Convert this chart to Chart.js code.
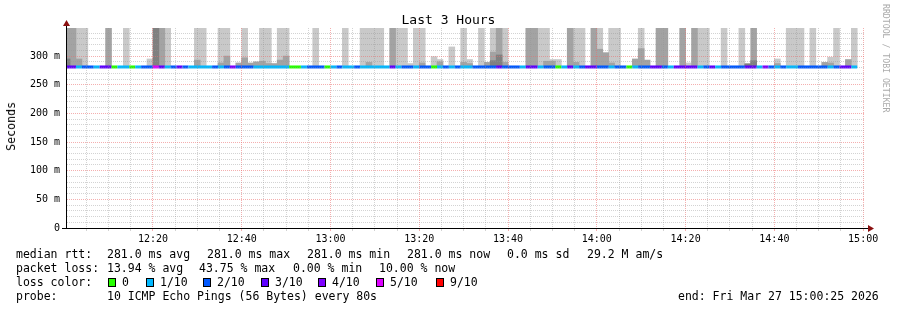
<!DOCTYPE html>
<html>
<head>
<meta charset="utf-8">
<script src="https://cdn.jsdelivr.net/npm/chart.js@4.4.1/dist/chart.umd.min.js"></script>
<style>
body { margin: 0; background: #fff; }
#wrap { position: relative; width: 897px; height: 310px; font-family: "DejaVu Sans Mono", monospace; color: #000; overflow: hidden; }
#chart { position: absolute; left: 0; top: 0; }
.txt { position: absolute; white-space: pre; font-size: 11.5px; line-height: 14px; }
.sq { position: absolute; width: 6px; height: 7px; border: 1px solid #000; }
#title { position: absolute; left: 0; width: 897px; top: 13px; text-align: center; font-size: 13px; line-height: 14px; }
#ylabel { position: absolute; left: 4px; top: 102px; writing-mode: vertical-rl; transform: rotate(180deg); font-size: 11.6px; line-height: 14px; }
#mark { position: absolute; left: 881px; top: 4px; writing-mode: vertical-rl; font-size: 8.2px; line-height: 10px; color: #aaa; }
</style>
</head>
<body>
<div id="wrap">
  <canvas id="chart" width="897" height="310"></canvas>
  <div id="title">Last 3 Hours</div>
  <div id="ylabel">Seconds</div>
  <div id="mark">RRDTOOL / TOBI OETIKER</div>
  <div class="txt" style="left:16px;top:247px">median rtt:</div>
  <div class="txt" style="left:107px;top:247px">281.0 ms avg</div>
  <div class="txt" style="left:207px;top:247px">281.0 ms max</div>
  <div class="txt" style="left:307px;top:247px">281.0 ms min</div>
  <div class="txt" style="left:407px;top:247px">281.0 ms now</div>
  <div class="txt" style="left:507px;top:247px">0.0 ms sd</div>
  <div class="txt" style="left:587px;top:247px">29.2 M am/s</div>
  <div class="txt" style="left:16px;top:261px">packet loss:</div>
  <div class="txt" style="left:107px;top:261px">13.94 % avg</div>
  <div class="txt" style="left:199px;top:261px">43.75 % max</div>
  <div class="txt" style="left:293px;top:261px">0.00 % min</div>
  <div class="txt" style="left:379px;top:261px">10.00 % now</div>
  <div class="txt" style="left:16px;top:275px">loss color:</div>
  <div id="losslegend"></div>
  <div class="txt" style="left:16px;top:289px">probe:</div>
  <div class="txt" style="left:107px;top:289px">10 ICMP Echo Pings (56 Bytes) every 80s</div>
  <div class="txt" style="left:678px;top:289px">end: Fri Mar 27 15:00:25 2026</div>
</div>
<script>
// 80 s steps from 12:00:00, axis runs 12:00:25 .. 15:00:25 (minutes after 12:00)
var stepMinutes = 80 / 60;
var timeLabels = ['12:20', '12:40', '13:00', '13:20', '13:40', '14:00', '14:20', '14:40', '15:00'];
var yTickLabels = ['0', '50 m', '100 m', '150 m', '200 m', '250 m', '300 m'];

// median rtt per step (ms)
var medianRtt = [
  281, 281, 281, 281, 281, 281, 281, 281, 281, 281,
  281, 281, 281, 281, 281, 281, 281, 281, 281, 281,
  281, 281, 281, 281, 281, 281, 281, 281, 281, 281,
  281, 281, 281, 281, 281, 281, 281, 281, 281, 281,
  281, 281, 281, 281, 281, 281, 281, 281, 281, 281,
  281, 281, 281, 281, 281, 281, 281, 281, 281, 281,
  281, 281, 281, 281, 281, 281, 281, 281, 281, 281,
  281, 281, 281, 281, 281, 281, 281, 281, 281, 281,
  281, 281, 281, 281, 281, 281, 281, 281, 281, 281,
  281, 281, 281, 281, 281, 281, 281, 281, 281, 281,
  281, 281, 281, 281, 281, 281, 281, 281, 281, 281,
  281, 281, 281, 281, 281, 281, 281, 281, 281, 281,
  281, 281, 281, 281, 281, 281, 281, 281, 281, 281,
  281, 281, 281, 281, null
];

// lost pings out of 10 per step
var lossCount = [
  3, 3, 1, 2, 2, 1, 3, 3, 0, 1,
  1, 0, 1, 2, 2, 5, 3, 1, 2, 3,
  2, 1, 1, 1, 1, 2, 1, 2, 4, 2,
  2, 2, 1, 1, 1, 1, 1, 1, 0, 0,
  1, 2, 2, 2, 0, 1, 2, 1, 1, 2,
  1, 1, 1, 1, 1, 3, 1, 2, 2, 1,
  2, 2, 0, 1, 2, 1, 2, 1, 1, 2,
  2, 2, 2, 3, 2, 2, 2, 1, 3, 3,
  1, 2, 2, 0, 1, 3, 1, 2, 3, 3,
  2, 2, 1, 2, 2, 0, 1, 2, 2, 3,
  3, 2, 1, 3, 3, 3, 3, 1, 2, 3,
  1, 2, 2, 2, 2, 3, 3, 1, 4, 2,
  1, 2, 1, 1, 2, 2, 2, 2, 2, 1,
  2, 3, 3, 1, null
];

// smoke tops (ms), 360 = above the top of the graph
var smokeLight = [
  null, null, 360, 360, null, null, null, null, null, null,
  360, null, null, null, 295, null, null, 360, null, null,
  null, null, 360, 360, null, null, 360, 360, null, null,
  360, null, null, 360, 360, null, 360, 360, null, null,
  null, null, 360, null, null, null, null, 360, null, null,
  360, 360, 360, 360, null, null, 360, 360, 287, 360,
  360, null, 299, 294, null, 316, null, 360, 294, null,
  360, null, 360, null, 360, null, null, null, null, null,
  360, 360, 294, 294, null, null, 360, 360, null, null,
  360, null, 360, 360, null, null, null, 360, null, null,
  null, null, null, null, null, 288, null, 360, 360, null,
  null, 360, null, null, 360, null, null, null, null, null,
  295, null, 360, 360, 360, null, 360, null, null, 298,
  360, null, null, 360, null
];
var smokeMid = [
  360, 360, 295, null, null, null, null, 360, null, null,
  null, null, null, null, null, null, 360, null, null, null,
  null, null, 293, null, null, null, 288, 300, null, 288,
  297, 288, 290, 291, 287, 287, 293, 300, null, null,
  null, null, null, null, null, null, null, null, null, null,
  null, 289, null, null, null, 360, null, null, null, null,
  288, null, null, 290, null, null, null, 289, 287, null,
  null, 289, 307, 360, 289, null, null, null, 360, 360,
  null, 291, 291, null, null, 360, 289, null, null, 360,
  312, 306, 288, null, null, null, 295, 313, 293, null,
  360, 360, null, null, 360, null, 360, null, null, null,
  null, null, null, null, null, 287, 360, null, null, null,
  287, null, null, null, null, null, null, null, 289, 288,
  null, null, 294, null, null
];
var smokeDark = [
  295, null, null, null, null, null, null, null, null, null,
  null, null, null, null, null, 360, null, null, null, null,
  null, null, null, null, null, null, null, null, null, null,
  null, null, null, null, null, null, null, null, null, null,
  null, null, null, null, null, null, null, null, null, null,
  null, null, null, null, null, null, null, null, null, null,
  null, null, null, null, null, null, null, null, null, null,
  null, null, 292, 302, null, null, null, null, null, null,
  null, null, null, null, null, null, null, null, null, null,
  null, null, null, null, null, null, null, null, null, null,
  null, null, null, null, null, null, null, null, null, null,
  null, null, null, null, null, 286, 292, null, null, null,
  null, null, null, null, null, null, null, null, null, null,
  null, null, null, null, null
];

var lossLevels = [0, 1, 2, 3, 4, 5, 9];
var lossLabels = ['0', '1/10', '2/10', '3/10', '4/10', '5/10', '9/10'];
var lossColors = ['#26ff00', '#00b8ff', '#0059ff', '#5e00ff', '#7e00ff', '#dd00ff', '#ff0000'];

function lossColor(c) {
  var idx = 0;
  for (var i = 0; i < lossLevels.length; i++) {
    if (c >= lossLevels[i]) idx = i;
  }
  return lossColors[idx];
}

function smokeData(tops) {
  var out = [];
  for (var i = 0; i < tops.length; i++) {
    if (tops[i] == null || medianRtt[i] == null) continue;
    out.push({x: (i + 0.5) * stepMinutes, y: [medianRtt[i], tops[i]]});
  }
  return out;
}

var medianPoints = [];
for (var i = 0; i < medianRtt.length; i++) {
  medianPoints.push({x: i * stepMinutes, y: medianRtt[i]});
  medianPoints.push({x: (i + 1) * stepMinutes, y: medianRtt[i]});
}

// loss colour legend row
var legendBox = document.getElementById('losslegend');
var squareX = [108, 146, 203, 261, 318, 376, 436];
for (var k = 0; k < lossLabels.length; k++) {
  var sq = document.createElement('div');
  sq.className = 'sq';
  sq.style.left = squareX[k] + 'px';
  sq.style.top = '278px';
  sq.style.background = lossColors[k];
  legendBox.appendChild(sq);
  var lb = document.createElement('div');
  lb.className = 'txt';
  lb.style.left = (squareX[k] + 14) + 'px';
  lb.style.top = '275px';
  lb.textContent = lossLabels[k];
  legendBox.appendChild(lb);
}

var minorGrid = 'rgba(150,150,150,0.42)';
var majorGrid = 'rgba(235,110,110,0.55)';

var axisArrows = {
  id: 'axisArrows',
  afterDraw: function(chart) {
    var ctx = chart.ctx;
    var a = chart.chartArea;
    ctx.save();
    ctx.strokeStyle = '#000';
    ctx.lineWidth = 1;
    ctx.beginPath();
    ctx.moveTo(a.left + 0.5, a.bottom + 1);
    ctx.lineTo(a.left + 0.5, a.top - 4);
    ctx.moveTo(a.left - 4, a.bottom + 0.5);
    ctx.lineTo(a.right + 4, a.bottom + 0.5);
    ctx.stroke();
    ctx.fillStyle = '#8b1010';
    ctx.beginPath();
    ctx.moveTo(a.left - 3, a.top - 2);
    ctx.lineTo(a.left + 4, a.top - 2);
    ctx.lineTo(a.left + 0.5, a.top - 8);
    ctx.closePath();
    ctx.fill();
    ctx.beginPath();
    ctx.moveTo(a.right + 3, a.bottom - 3);
    ctx.lineTo(a.right + 3, a.bottom + 4);
    ctx.lineTo(a.right + 9, a.bottom + 0.5);
    ctx.closePath();
    ctx.fill();
    ctx.restore();
  }
};

Chart.defaults.font.family = '"DejaVu Sans Mono", monospace';
Chart.defaults.font.size = 10;
Chart.defaults.color = '#000';

new Chart(document.getElementById('chart'), {
  type: 'bar',
  data: {
    datasets: [
      {
        type: 'line',
        label: 'median rtt',
        data: medianPoints,
        borderWidth: 3,
        borderCapStyle: 'butt',
        pointRadius: 0,
        spanGaps: false,
        tension: 0,
        borderColor: '#00b8ff',
        segment: {
          borderColor: function(ctx) {
            return lossColor(lossCount[Math.floor(ctx.p0DataIndex / 2)]);
          }
        },
        order: 0
      },
      { label: 'smoke dark', data: smokeData(smokeDark), backgroundColor: '#808080', order: 1 },
      { label: 'smoke mid', data: smokeData(smokeMid), backgroundColor: '#a3a3a3', order: 2 },
      { label: 'smoke light', data: smokeData(smokeLight), backgroundColor: '#c9c9c9', order: 3 }
    ]
  },
  options: {
    responsive: false,
    animation: false,
    events: [],
    grouped: false,
    barPercentage: 1,
    categoryPercentage: 1,
    borderWidth: 0,
    layout: { padding: { top: 28, right: 32, left: 0, bottom: 0 } },
    plugins: {
      legend: { display: false },
      tooltip: { enabled: false },
      title: { display: false }
    },
    scales: {
      x: {
        type: 'linear',
        offset: false,
        min: 25 / 60,
        max: 180 + 25 / 60,
        afterBuildTicks: function(scale) {
          var t = [];
          for (var v = 5; v <= 180; v += 5) t.push({value: v});
          scale.ticks = t;
        },
        afterFit: function(scale) { scale.height = 82; },
        ticks: {
          autoSkip: false,
          maxRotation: 0,
          padding: 2,
          callback: function(value) {
            return value % 20 === 0 ? timeLabels[value / 20 - 1] : '';
          }
        },
        grid: {
          z: 1,
          offset: false,
          drawTicks: true,
          tickLength: 3,
          color: function(ctx) {
            return ctx.tick && ctx.tick.value % 20 === 0 ? majorGrid : minorGrid;
          },
          tickColor: function(ctx) {
            return ctx.tick && ctx.tick.value % 20 === 0 ? majorGrid : minorGrid;
          }
        },
        border: { display: true, color: '#000', z: 1, dash: [1, 1] }
      },
      y: {
        min: 0,
        max: 349,
        afterBuildTicks: function(scale) {
          var t = [];
          for (var v = 0; v <= 340; v += 10) t.push({value: v});
          scale.ticks = t;
        },
        afterFit: function(scale) { scale.width = 66; },
        ticks: {
          autoSkip: false,
          padding: 6,
          callback: function(value) {
            return value % 50 === 0 ? yTickLabels[value / 50] : '';
          }
        },
        grid: {
          z: 1,
          drawTicks: false,
          color: function(ctx) {
            return ctx.tick && ctx.tick.value % 50 === 0 ? majorGrid : minorGrid;
          }
        },
        border: { display: true, color: '#000', z: 1, dash: [1, 1] }
      }
    }
  },
  plugins: [axisArrows]
});
</script>
</body>
</html>
